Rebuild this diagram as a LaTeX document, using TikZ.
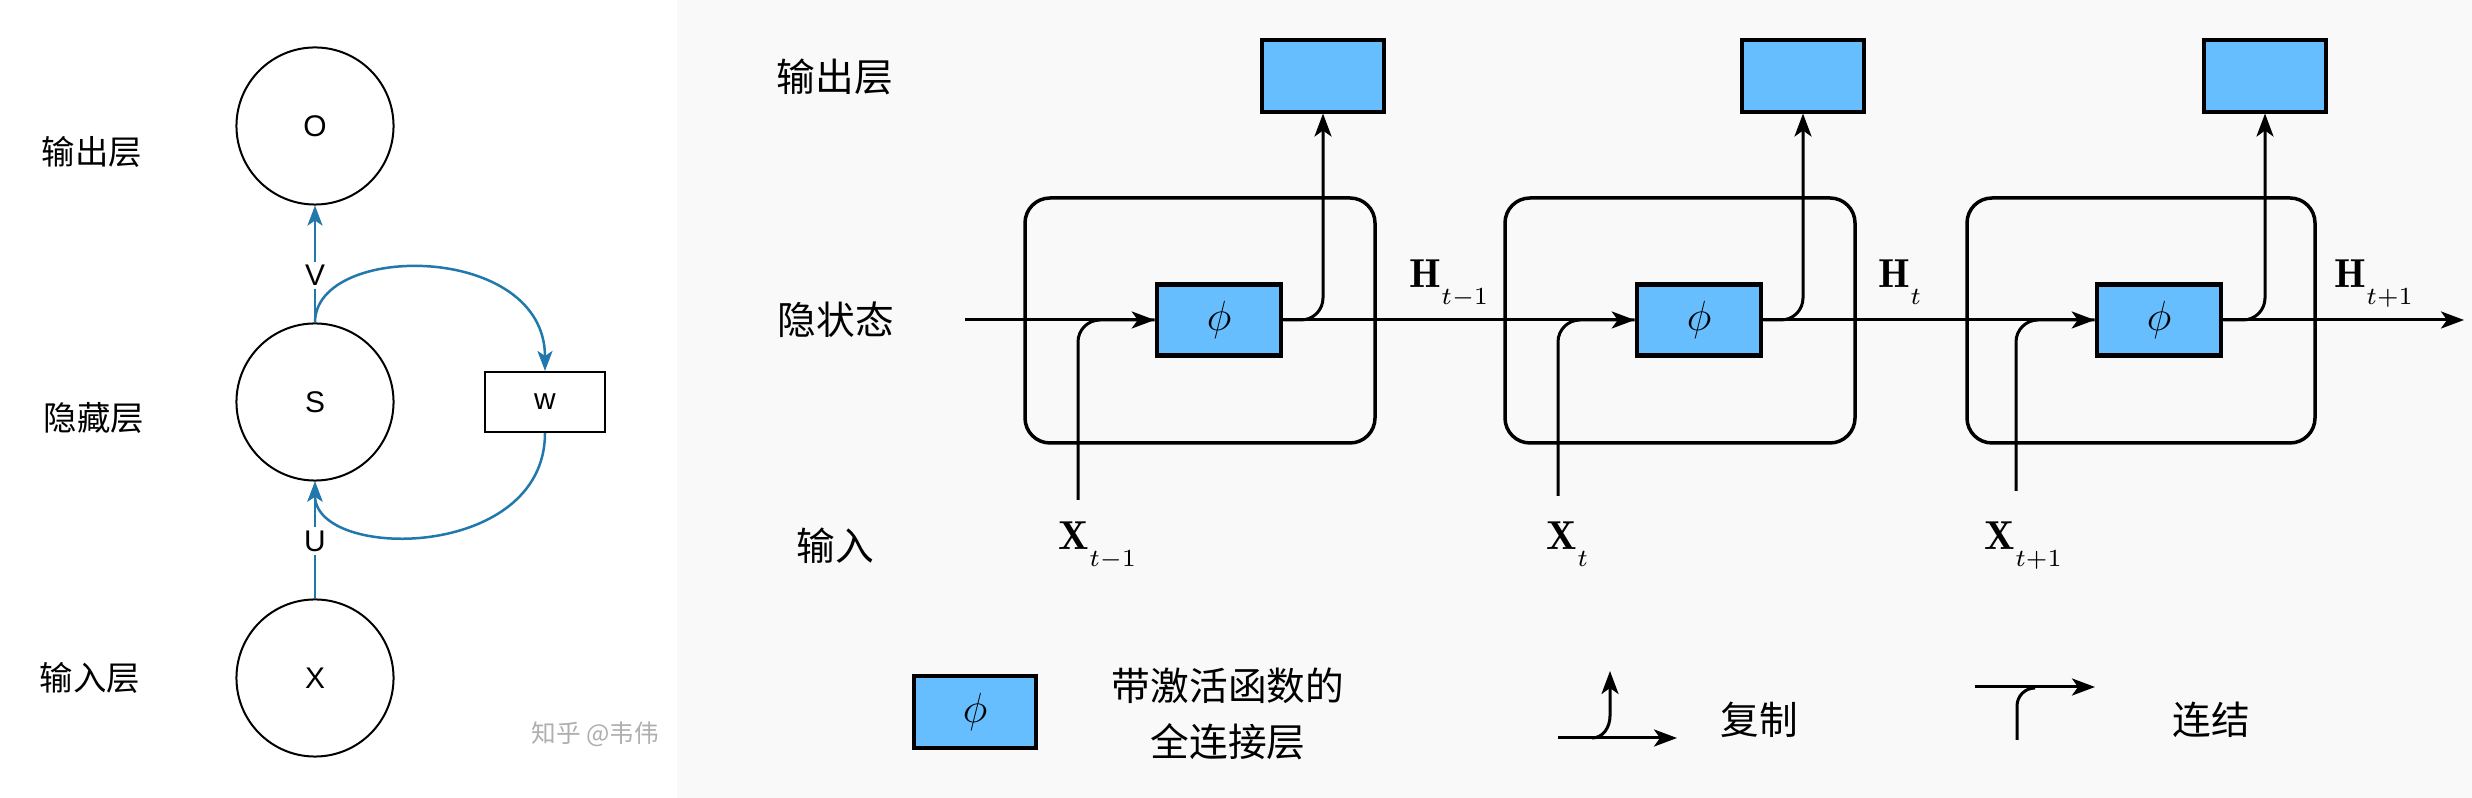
\documentclass[tikz,border=0pt]{standalone}
\usepackage{fontspec}
\setsansfont{Liberation Sans}
\newfontfamily\cjk{Noto Sans CJK SC}
\usetikzlibrary{arrows.meta}
\definecolor{bggray}{HTML}{F9F9F9}
\definecolor{phiblue}{RGB}{102,190,255}
\definecolor{lblue}{RGB}{32,120,172}
\definecolor{wmgray}{RGB}{175,175,175}
\newcommand{\lsub}[1]{_{\raisebox{-3pt}{\fontsize{7.5}{9}\selectfont$#1$}}}
\tikzset{
  circ/.style={draw, circle, minimum size=1.57cm, line width=0.02cm, inner sep=0pt, font=\sffamily\fontsize{8.5}{10}\selectfont},
  wbox/.style={draw, rectangle, minimum width=1.19cm, minimum height=0.6cm, line width=0.02cm, inner sep=0pt, font=\sffamily\fontsize{8.5}{10}\selectfont},
  barrow/.style={draw=lblue, line width=0.025cm, -{Stealth[length=0.2cm,width=0.15cm,inset=0.05cm]}},
  blbl/.style={fill=white, inner sep=1pt, font=\sffamily\fontsize{8.5}{10}\selectfont},
  lcjk/.style={font=\cjk\fontsize{9.5}{11}\selectfont},
  rcjk/.style={font=\cjk\fontsize{11}{13}\selectfont},
  phibox/.style={draw, fill=phiblue, line width=0.045cm, minimum width=1.24cm, minimum height=0.71cm, inner sep=0pt, font=\fontsize{12}{14}\selectfont},
  outbox/.style={draw, fill=phiblue, line width=0.04cm, minimum width=1.22cm, minimum height=0.71cm, inner sep=0pt},
  cell/.style={draw, line width=0.035cm, rounded corners=0.25cm},
  kline/.style={draw, line width=0.03cm},
  karrow/.style={kline, -{Stealth[length=0.23cm,width=0.17cm,inset=0.06cm]}},
  mlbl/.style={font=\fontsize{11.5}{13}\selectfont, inner sep=0pt, anchor=base west},
}
\begin{document}
\begin{tikzpicture}[x=0.01cm,y=-0.01cm]
\useasboundingbox (0,0) rectangle (2472,798);
\fill[white] (0,0) rectangle (677,798);
\fill[bggray] (677,0) rectangle (2472,798);

% ---------- left panel ----------
\node[lcjk] (tO) at (92,152) {输出层};
\node[lcjk] (tS) at (94,418) {隐藏层};
\node[lcjk] (tX) at (90,678) {输入层};

\node[circ] (O) at (315,126) {O};
\node[circ] (S) at (315,402) {S};
\node[circ] (X) at (315,678) {X};
\node[wbox] (W) at (545,402) {w};

\draw[barrow] (S.north) -- node[blbl, pos=0.4] (lV) {V} (O.south);
\draw[barrow] (X.north) -- node[blbl, pos=0.49] (lU) {U} (S.south);
\draw[barrow] (S.north) .. controls (315,242) and (545,242) .. (W.north);
\draw[barrow] (W.south) .. controls (545,561) and (315,561) .. (S.south);

\node[font=\cjk\fontsize{7}{8}\selectfont, text=wmgray, anchor=west, inner sep=0pt] (wm) at (531,734) {知乎 @韦伟};

% ---------- right panel ----------
\node[rcjk] (rO) at (835,77) {输出层};
\node[rcjk] (rH) at (836,320) {隐状态};
\node[rcjk] (rX) at (835,546) {输入};

\draw[cell] (1025,198) rectangle (1375,443);
\draw[cell] (1505,198) rectangle (1855,443);
\draw[cell] (1967,198) rectangle (2315,443);

\node[phibox] (p1) at (1219,320) {$\phi$};
\node[phibox] (p2) at (1699,320) {$\phi$};
\node[phibox] (p3) at (2159,320) {$\phi$};

\node[outbox] (o1) at (1323,76) {};
\node[outbox] (o2) at (1803,76) {};
\node[outbox] (o3) at (2265,76) {};

\coordinate (hin) at (965,320);
\coordinate (hout) at (2464,320);
\coordinate (xi1) at (1078,500);
\coordinate (xi2) at (1558,496);
\coordinate (xi3) at (2016,491);

\draw[kline, rounded corners=0.22cm] (xi1) |- (p1.west);
\draw[kline, rounded corners=0.22cm] (xi2) |- (p2.west);
\draw[kline, rounded corners=0.22cm] (xi3) |- (p3.west);

\draw[karrow] (hin) -- (p1.west);
\draw[karrow] (p1.east) -- (p2.west);
\draw[karrow] (p2.east) -- (p3.west);
\draw[karrow] (p3.east) -- (hout);

\draw[karrow, rounded corners=0.22cm] (p1.east) -| (o1.south);
\draw[karrow, rounded corners=0.22cm] (p2.east) -| (o2.south);
\draw[karrow, rounded corners=0.22cm] (p3.east) -| (o3.south);

\node[mlbl] (h1) at (1409,288) {$\mathbf{H}\lsub{t{-}1}$};
\node[mlbl] (h2) at (1878,288) {$\mathbf{H}\lsub{t}$};
\node[mlbl] (h3) at (2334,288) {$\mathbf{H}\lsub{t{+}1}$};
\node[mlbl] (x1) at (1058,550) {$\mathbf{X}\lsub{t{-}1}$};
\node[mlbl] (x2) at (1546,550) {$\mathbf{X}\lsub{t}$};
\node[mlbl] (x3) at (1984,550) {$\mathbf{X}\lsub{t{+}1}$};

% ---------- legend ----------
\node[phibox, minimum width=1.22cm, minimum height=0.72cm] (lphi) at (975,712) {$\phi$};
\node[rcjk] (l1) at (1228,686) {带激活函数的};
\node[rcjk] (l2) at (1228,742) {全连接层};

\coordinate (cpL) at (1558,738);
\coordinate (cpR) at (1677,738);
\coordinate (cpB) at (1592,738);
\coordinate (cpM) at (1610,716);
\coordinate (cpT) at (1610,671);
\draw[karrow] (cpL) -- (cpR);
\draw[karrow] (cpB) to[out=0,in=-90] (cpM) -- (cpT);
\node[rcjk] (lc) at (1759,720) {复制};

\coordinate (ccL) at (1975,687);
\coordinate (ccR) at (2095,687);
\coordinate (ccB) at (2017,740);
\coordinate (ccM) at (2017,706);
\coordinate (ccJ) at (2035,688);
\draw[karrow] (ccL) -- (ccR);
\draw[kline] (ccB) -- (ccM) to[out=90,in=180] (ccJ);
\node[rcjk] (lj) at (2211,720) {连结};
\end{tikzpicture}
\end{document}
